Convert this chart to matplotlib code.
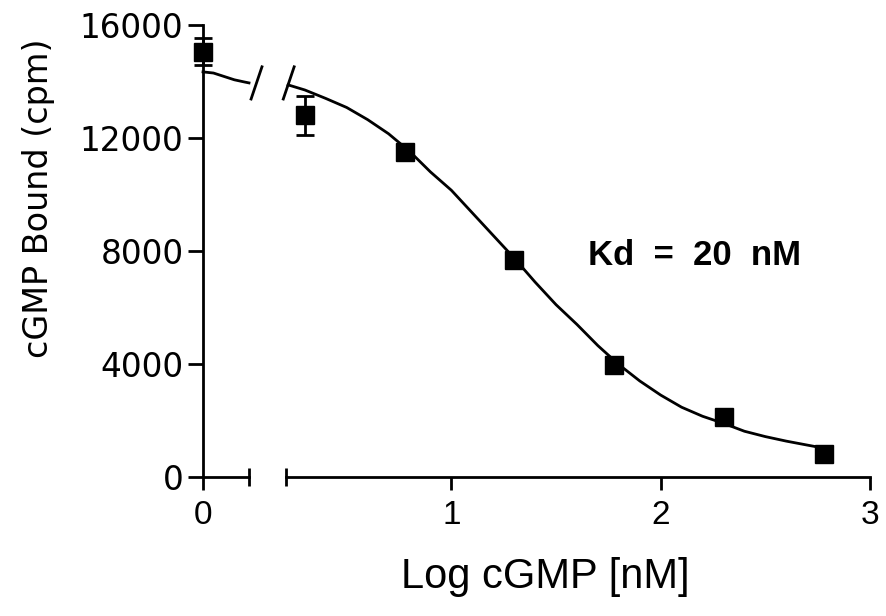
import matplotlib
matplotlib.use("Agg")
import matplotlib.pyplot as plt
from matplotlib.ticker import FixedLocator

plt.rcParams['font.family'] = ['Liberation Sans', 'DejaVu Sans']

# ---- data ----
# control point (no cGMP) shown on the left segment
ctrl_x = [0.0]
ctrl_y = [15050]
ctrl_err = [480]

# log cGMP [nM] points on the right segment
log_conc = [0.301, 0.778, 1.301, 1.778, 2.301, 2.778]
bound = [12800, 11500, 7680, 3965, 2120, 815]
bound_err = [680, 0, 0, 120, 0, 0]

# fitted curve
fit_left_x = [0.0, 0.05, 0.10, 0.15, 0.20, 0.22]
fit_left_y = [14340, 14300, 14180, 14060, 13980, 13950]
fit_x = [0.22, 0.3, 0.4, 0.5, 0.6, 0.7, 0.8, 0.9, 1.0, 1.1, 1.2, 1.3, 1.4,
         1.5, 1.6, 1.7, 1.8, 1.9, 2.0, 2.1, 2.2, 2.3, 2.4, 2.5, 2.6, 2.7, 2.78]
fit_y = [13880, 13700, 13400, 13080, 12650, 12150, 11530, 10800, 10150,
         9350, 8550, 7750, 6900, 6100, 5400, 4650, 3980, 3400, 2900, 2470,
         2150, 1900, 1620, 1430, 1270, 1130, 1020]

y_ticks = [0, 4000, 8000, 12000, 16000]
x_ticks_left = [0]
x_ticks_right = [1, 2, 3]
annot = "Kd  =  20  nM"

# ---- figure ----
W, H = 886, 616
fig = plt.figure(figsize=(W / 100, H / 100), dpi=100)
fig.patch.set_facecolor('white')

bot = (H - 477) / H
top = (H - 25) / H
axL = fig.add_axes([203 / W, bot, 46 / W, top - bot])
axR = fig.add_axes([286 / W, bot, 584 / W, top - bot])

LW = 2.0
for ax in (axL, axR):
    ax.set_ylim(0, 16000)
    ax.spines['top'].set_visible(False)
    ax.spines['right'].set_visible(False)
    ax.spines['bottom'].set_linewidth(LW)
    ax.spines['left'].set_linewidth(LW)
    ax.set_facecolor('none')

axL.set_xlim(0, 0.22)
axR.set_xlim(0.21, 3.0)
axR.spines['left'].set_visible(False)
axR.tick_params(axis='y', left=False, labelleft=False)

# ticks
axL.yaxis.set_major_locator(FixedLocator(y_ticks))
axL.tick_params(axis='y', direction='out', length=11, width=LW, pad=3)
for lab in axL.get_yticklabels():
    lab.set_fontfamily('DejaVu Sans')
    lab.set_fontsize(23.5)

axL.xaxis.set_major_locator(FixedLocator(x_ticks_left))
axL.xaxis.set_minor_locator(FixedLocator([0.22]))
axR.xaxis.set_major_locator(FixedLocator(x_ticks_right))
axR.xaxis.set_minor_locator(FixedLocator([0.21]))
for ax in (axL, axR):
    ax.tick_params(axis='x', which='major', direction='out', length=9.5,
                   width=LW, pad=7, labelsize=24)
    ax.tick_params(axis='x', which='minor', direction='inout', length=13,
                   width=LW)
    ax.xaxis.set_major_formatter(matplotlib.ticker.FormatStrFormatter('%d'))

# curve
axL.plot(fit_left_x, fit_left_y, color='black', lw=2.0, clip_on=False, zorder=2)
axR.plot(fit_x, fit_y, color='black', lw=2.0, clip_on=False, zorder=2)

# points
mk = dict(fmt='s', color='black', ms=12.5, ecolor='black', elinewidth=2.0,
          capsize=6.5, capthick=2.0, clip_on=False, zorder=3)
axL.errorbar(ctrl_x, ctrl_y, yerr=ctrl_err, **mk)
axR.errorbar(log_conc, bound, yerr=bound_err, **mk)

# break slashes on the curve
brk_y = fit_left_y[-1]
dx, dy = 0.026, 570
axL.plot([0.256 - dx, 0.256 + dx], [brk_y - dy, brk_y + dy], color='black',
         lw=2.0, clip_on=False)
axR.plot([0.223 - dx, 0.223 + dx], [brk_y - dy, brk_y + dy], color='black',
         lw=2.0, clip_on=False)

# annotation
axR.text(1.655, 7850, annot, fontsize=25, fontweight='bold', ha='left',
         va='center')

# axis labels
fig.text(545 / W, 1 - 577 / H, "Log cGMP [nM]", fontsize=30, ha='center',
         va='center')
fig.text(39 / W, 1 - 198 / H, "cGMP Bound (cpm)", fontsize=24,
         family='DejaVu Sans', rotation=90, ha='center', va='center')

fig.savefig('out.png', dpi=100, facecolor='white')
